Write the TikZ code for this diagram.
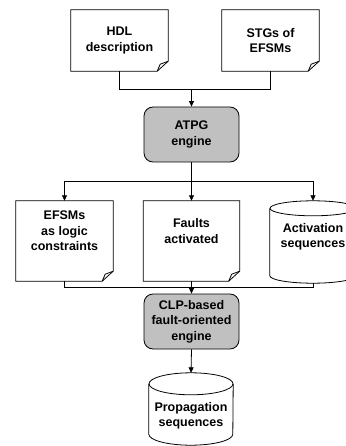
\documentclass[tikz,border=0pt]{standalone}
\usepackage{fontspec}
\setmainfont{Liberation Sans}
\usetikzlibrary{arrows.meta,calc}
\definecolor{enginegray}{RGB}{192,192,192}
\tikzset{
  every node/.style={font=\fontsize{12.5}{15.5}\selectfont\bfseries, align=center},
  ln/.style={line width=0.8pt, draw=black},
  arr/.style={ln, -{Triangle[length=5.5pt,width=5pt]}},
  engine/.style={ln, fill=enginegray, rounded corners=9pt, minimum width=95pt, minimum height=55pt, inner sep=0pt},
  docbox/.style={minimum width=97pt, minimum height=#1, inner sep=0pt},
  cylbox/.style={minimum width=#1, inner sep=0pt},
}
\newcommand\docframe[1]{%
  \draw[ln, line join=miter] (#1.north west) -- (#1.north east) -- ([yshift=10pt]#1.south east)
     -- ([xshift=-11pt]#1.south east) -- (#1.south west) -- cycle;
  \draw[ln, line join=round] ([xshift=-11pt]#1.south east) .. controls ([xshift=-10pt,yshift=4pt]#1.south east)
     .. ([xshift=-8pt,yshift=7pt]#1.south east) -- ([yshift=10pt]#1.south east);}
\newcommand\cylframe[3]{% name, x radius, y radius
  \draw[ln] ([yshift=-#3]#1.north) ellipse [x radius=#2, y radius=#3];
  \draw[ln] ([yshift=-#3]#1.north west) -- ([yshift=#3]#1.south west)
     arc [start angle=180, end angle=360, x radius=#2, y radius=#3] -- ([yshift=-#3]#1.north east);}
\begin{document}
\begin{tikzpicture}[x=1pt,y=-1pt]
  \fill[white] (0,0) rectangle (345,446);
  \useasboundingbox (0,0) rectangle (345,446);

  % top documents
  \node[docbox=61pt] (hdl) at (119.5,40.5) {HDL\\description};
  \node[docbox=61pt] (stg) at (270.5,40.5) {STGs of\\EFSMs};
  \docframe{hdl}
  \docframe{stg}

  % ATPG engine
  \node[engine] (atpg) at (191.5,134.5) {ATPG\\engine};

  % middle row
  \node[docbox=80pt, label={[yshift=10pt]center:EFSMs\\as logic\\constraints}] (efsm) at (64.5,241) {};
  \node[docbox=80pt, minimum width=96pt, label={[yshift=10pt]center:Faults\\activated}] (flt) at (191.5,241) {};
  \docframe{efsm}
  \docframe{flt}
  \node[cylbox=86pt, minimum height=82pt, label={[yshift=5pt]center:Activation\\sequences}] (act) at (313,242) {};
  \cylframe{act}{43pt}{7.5pt}

  % CLP engine
  \node[engine] (clp) at (191.5,321.5) {CLP-based\\fault-oriented\\engine};

  % output
  \node[cylbox=84pt, minimum height=72pt, label={[yshift=-7pt]center:Propagation\\sequences}] (prop) at (191,409) {};
  \cylframe{prop}{42pt}{11pt}

  % junctions
  \coordinate (j1) at (191.5,89);
  \coordinate (j2) at (191.5,181.5);
  \coordinate (j3) at (191.5,287);

  % connectors
  \draw[ln] (hdl.south) |- (j1);
  \draw[ln] (stg.south) |- (j1);
  \draw[arr] (j1) -- (atpg.north);

  \draw[ln] (atpg.south) -- (j2);
  \draw[arr] (j2) -| (efsm.north);
  \draw[arr] (j2) -- (flt.north);
  \draw[arr] (j2) -| (act.north);

  \draw[ln] (efsm.south) |- (j3);
  \draw[ln] (act.south) |- (j3);
  \draw[arr] (flt.south) -- (clp.north);

  \draw[arr] (clp.south) -- (prop.north);
\end{tikzpicture}
\end{document}
